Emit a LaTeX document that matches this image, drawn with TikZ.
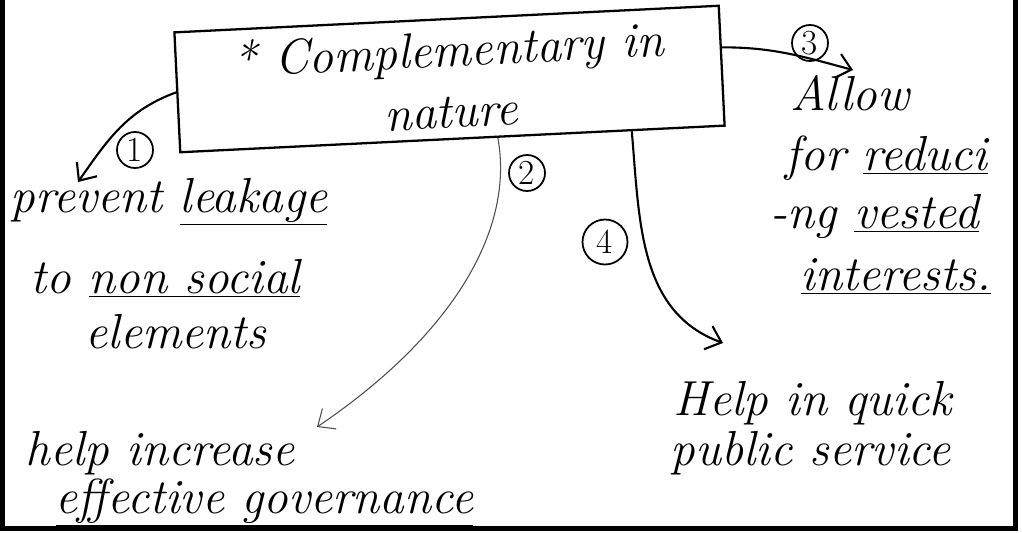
\documentclass[tikz,border=0pt]{standalone}
\usetikzlibrary{arrows.meta,calc}

\begin{document}
\begin{tikzpicture}[->,>={Straight Barb[length=8pt,width=14pt]},thick,
  note/.style={anchor=base west,inner sep=0pt,font=\fontsize{28}{32}\selectfont\itshape},
  num/.style={circle,draw,line width=1pt,inner sep=0pt,minimum size=0.72cm,font=\fontsize{20}{20}\selectfont},
  link/.style={line width=1.2pt}]

  \useasboundingbox (0,0) rectangle (20.44,10.64);

  % frame on three sides
  \draw[-,line width=3pt] (0.05,10.64) -- (0.05,0.07) -- (20.31,0.07) -- (20.31,10.64);

  % main box
  \node[draw,line width=1.3pt,rotate=2.8,minimum width=10.9cm,minimum height=2.4cm,align=center,
        inner ysep=2pt,font=\fontsize{28}{35}\selectfont\itshape] (box) at (8.99,9.06) {* Complementary in\\nature};

  % numbers
  \node[num] (c1) at (2.70,7.64) {1};
  \node[num] (c2) at (10.54,7.18) {2};
  \node[num] (c3) at (16.20,9.78) {3};
  \node[num,minimum size=0.9cm] (c4) at (12.10,5.80) {4};

  % arrow ends
  \coordinate (e1) at (1.56,7.00);
  \coordinate (e2) at (6.34,2.10);
  \coordinate (e3) at (17.06,9.24);
  \coordinate (e4) at (14.46,3.78);

  % 1
  \node[note] (t1a) at (0.20,6.40) {prevent \underline{leakage}};
  \node[note] (t1b) at (0.60,4.78) {to \underline{non social}};
  \node[note] (t1c) at (1.70,3.68) {elements};
  % 2
  \node[note] (t2a) at (0.50,1.34) {help increase};
  \node[note] (t2b) at (1.10,0.38) {\underline{effective governance}};
  % 3
  \node[note] (t3a) at (15.80,8.44) {Allow};
  \node[note] (t3b) at (15.70,7.24) {for \underline{reduci}};
  \node[note] (t3c) at (15.40,6.08) {-ng \underline{vested}};
  \node[note] (t3d) at (16.00,4.84) {\underline{interests.}};
  % 4
  \node[note] (t4a) at (13.46,2.34) {Help in quick};
  \node[note] (t4b) at (13.40,1.34) {public service};

  \draw[link] (box.west) to[out=200,in=55] (e1);
  \draw[line width=0.6pt,black!70] ($(box.south west)!0.583!(box.south east)$)
     .. controls (10.3,6.0) and (9.0,3.9) .. (e2);
  \draw[link] ($(box.north east)!0.35!(box.south east)$) to[out=0,in=165] (e3);
  \draw[link] ($(box.south west)!0.828!(box.south east)$) to[out=-85,in=160] (e4);

\end{tikzpicture}
\end{document}
